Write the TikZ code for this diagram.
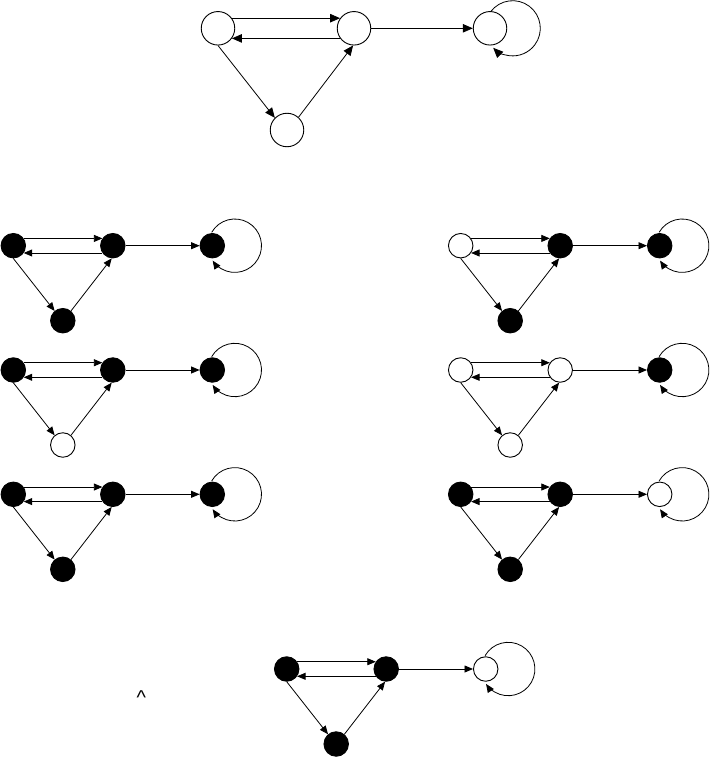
\documentclass[tikz,border=0pt]{standalone}
\usepackage{fontspec}
\newfontfamily\caretfont{Liberation Sans}
\usetikzlibrary{arrows.meta}
\tikzset{
  st/.style={circle, draw=black, line width=0.9pt, minimum size=24.5pt, inner sep=0pt},
  bigst/.style={circle, draw=black, line width=0.9pt, minimum size=33.5pt, inner sep=0pt},
  ed/.style={line width=0.8pt, -{Triangle[length=8.5pt,width=7pt]}},
  biged/.style={line width=0.8pt, -{Triangle[length=10pt,width=8.5pt]}},
}
\newcommand{\smallgraph}[7]{%
  \node[st, fill=#4] (#1A) at (#2, -#3) {};
  \node[st, fill=#5] (#1B) at ({#2+99.5}, -#3) {};
  \node[st, fill=#6] (#1C) at ({#2+199}, -#3) {};
  \node[st, fill=#7] (#1D) at ({#2+49.5}, {-#3-75}) {};
  \draw[ed] (#1A.35) -- (#1B.145);
  \draw[ed] (#1B.-145) -- (#1A.-35);
  \draw[ed] (#1B) -- (#1C);
  \draw[ed] (#1A.-90) -- (#1D.130);
  \draw[ed] (#1D.50) -- (#1B.-95);
  \draw[ed] (#1C.center) ++(22.5,0) ++(150:26.7) arc[start angle=150, end angle=-146, radius=26.7];
}
\begin{document}
\begin{tikzpicture}[x=1pt, y=1pt]
\useasboundingbox (0,0) rectangle (711,-757);
% top graph
\node[bigst, fill=white] (tA) at (218,-28.3) {};
\node[bigst, fill=white] (tB) at (354,-28.3) {};
\node[bigst, fill=white] (tC) at (490,-28.3) {};
\node[bigst, fill=white] (tD) at (287,-130) {};
\draw[biged] (tA.36) -- (tB.144);
\draw[biged] (tB.-144) -- (tA.-36);
\draw[biged] (tB) -- (tC);
\draw[biged] (tA.-90) -- (tD.135);
\draw[biged] (tD.48) -- (tB.-93);
\draw[biged] (tC.center) ++(22.7,0) ++(143:27.6) arc[start angle=143, end angle=-135, radius=27.6];
% six small graphs
\smallgraph{a}{13.3}{245.7}{black}{black}{black}{black}
\smallgraph{b}{460.7}{245.7}{white}{black}{black}{black}
\smallgraph{c}{13.3}{370}{black}{black}{black}{white}
\smallgraph{d}{460.7}{370}{white}{white}{black}{white}
\smallgraph{e}{13.3}{494.3}{black}{black}{black}{black}
\smallgraph{f}{460.7}{494.3}{black}{black}{white}{black}
% bottom graph
\smallgraph{g}{286.7}{669}{black}{black}{white}{black}
\node[inner sep=0pt, anchor=base, font=\caretfont\fontsize{20}{22}\selectfont] (caret) at (141.3,-704.6) {\textasciicircum};
\end{tikzpicture}
\end{document}
